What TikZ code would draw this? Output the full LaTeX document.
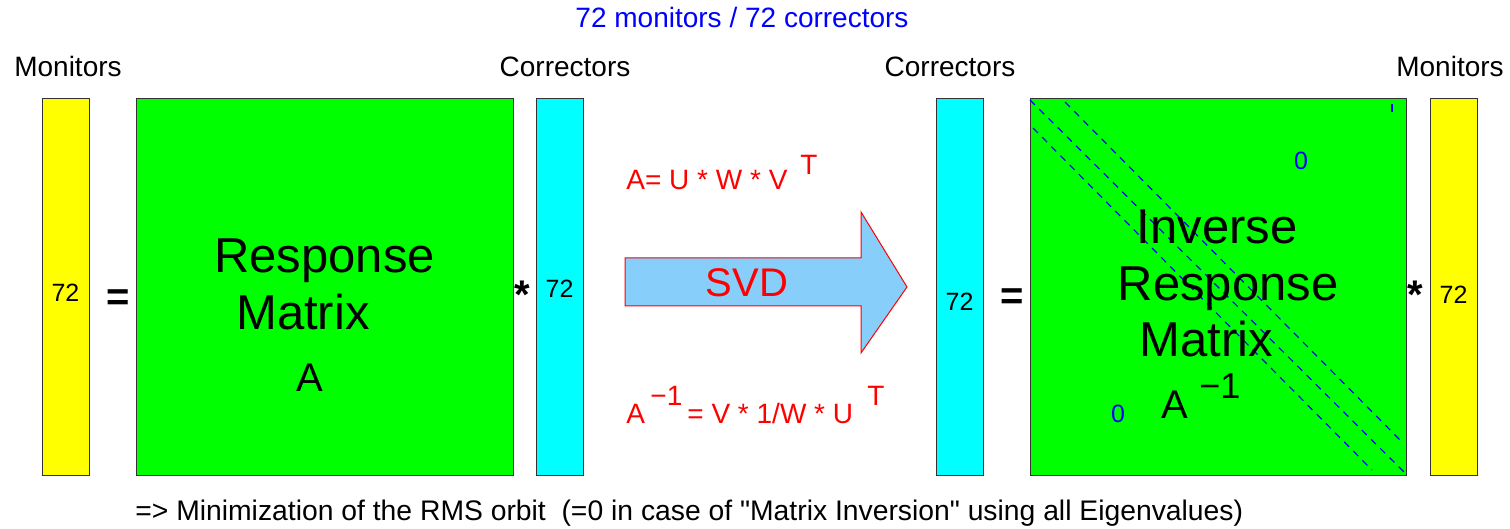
\documentclass[tikz,border=0pt]{standalone}
\usepackage{fontspec}
\setmainfont{Liberation Sans}
\newfontfamily\plainsans{Liberation Sans}[Ligatures=TeXOff]
\newcommand\fsz[1]{\fontsize{#1pt}{#1pt}\selectfont}
\definecolor{mygreen}{RGB}{0,255,0}
\definecolor{myyellow}{RGB}{255,255,0}
\definecolor{mycyan}{RGB}{0,255,255}
\definecolor{myblue}{RGB}{0,0,255}
\definecolor{myred}{RGB}{255,0,0}
\definecolor{arrowblue}{RGB}{135,206,250}
\begin{document}
\begin{tikzpicture}[x=0.5pt,y=-0.5pt,
  box/.style={draw=black!80, line width=0.5pt, inner sep=0, minimum height=188pt},
  bar/.style={box, minimum width=23.5pt},
  mat/.style={box, minimum width=188.5pt, fill=mygreen},
  lbl/.style={inner sep=0, anchor=base, font=\fsz{14}},
  num/.style={inner sep=0, anchor=base, font=\fsz{12.5}},
  big/.style={inner sep=0, anchor=base, font=\fsz{24.5}},
  op/.style={inner sep=0, anchor=center, font=\fsz{20}\bfseries},
  frm/.style={inner sep=0, anchor=base west, font=\fsz{14}, text=myred},
  zero/.style={inner sep=0, anchor=center, font=\fsz{12.5}, text=myblue},
  diag/.style={myblue, line width=0.6pt, dash pattern=on 3.5pt off 3pt}
]
\useasboundingbox (0,0) rectangle (1510,529);

% title
\node[lbl, text=myblue] (title) at (742,28) {72 monitors / 72 correctors};

% column labels
\node[lbl] (monL) at (68,77) {Monitors};
\node[lbl] (corL) at (565,77) {Correctors};
\node[lbl] (corR) at (950,77) {Correctors};
\node[lbl] (monR) at (1450,77) {Monitors};

% left equation
\node[bar, fill=myyellow] (m1) at (65.5,287) {};
\node[num] (m1t) at (65.5,302) {72};
\node[op] (eq1) at (118,300) {=};
\node[mat] (A) at (324.5,287) {};
\node[big] (Aresp) at (324.5,273) {Response};
\node[big] (Amat) at (303,329) {Matrix};
\node[inner sep=0, anchor=base, font=\fsz{20}] (Aa) at (310,391) {A};
\node[op] (st1) at (522,295) {*};
\node[bar, fill=mycyan] (c1) at (559.5,287) {};
\node[num] (c1t) at (559.5,298) {72};

% SVD arrow
\draw[draw=myred, fill=arrowblue, line width=0.5pt, line join=miter]
  (625,258) -- (861,258) -- (861,212) -- (907,287) -- (861,353) -- (861,306) -- (625,306) -- cycle;
\node[inner sep=0, anchor=base, font=\fsz{20}, text=myred] (svd) at (747,297) {SVD};

% formulas
\node[frm] (f1) at (626,190) {A= U * W * V};
\node[frm] (f1T) at (800,175) {T};
\node[frm] (f2A) at (626,423) {A};
\node[frm] (f2e) at (650,405) {−1};
\node[frm] (f2) at (687,423) {= V * 1/W * U};
\node[frm] (f2T) at (867,405) {T};

% right equation
\node[bar, fill=mycyan] (c2) at (959.5,287) {};
\node[num] (c2t) at (959.5,311) {72};
\node[op] (eq2) at (1012,299) {=};
\node[mat, minimum width=188pt] (Ai) at (1218,287) {};
\draw[diag] (1030,100) -- (1407,475);
\draw[diag] (1065,102) -- (1403,443);
\draw[diag] (1033,128) -- (1372,470);
\draw[myblue, line width=0.6pt] (1392,104) -- (1392,112);
\node[zero] (z1) at (1301,161) {0};
\node[zero] (z2) at (1118,414) {0};
\node[big] (Ainv) at (1217,244) {Inverse};
\node[big] (Airesp) at (1228,300) {Response};
\node[big] (Aimat) at (1206.5,357) {Matrix};
\node[inner sep=0, anchor=base, font=\fsz{20}] (Aia) at (1175,418) {A};
\node[inner sep=0, anchor=base west, font=\fsz{18}] (Aiexp) at (1199,398) {−1};
\node[op] (st2) at (1415,295) {*};
\node[bar, fill=myyellow] (m2) at (1453.5,287) {};
\node[num] (m2t) at (1453.5,304) {72};

% bottom note
\node[inner sep=0, anchor=base west, font=\plainsans\fsz{14.15}] (note) at (135,520) {=> Minimization of the RMS orbit\ \ (=0 in case of "Matrix Inversion" using all Eigenvalues)};
\end{tikzpicture}
\end{document}
